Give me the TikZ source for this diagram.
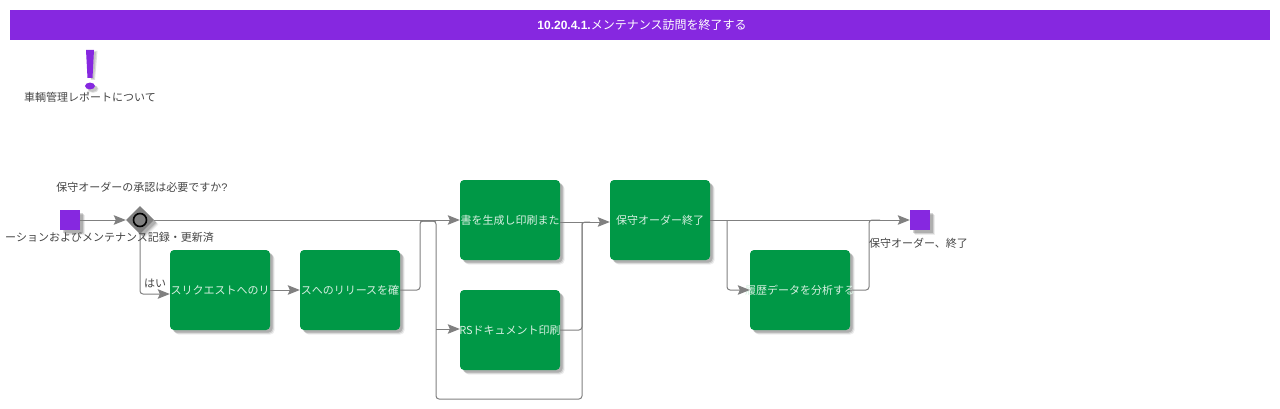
\documentclass[tikz,border=0pt]{standalone}
\usepackage{fontspec}
\setmainfont{Liberation Sans}
\newfontfamily\jp{Noto Sans CJK JP}
\usetikzlibrary{arrows.meta,shadows,calc,shapes.geometric}
\definecolor{bpurple}{HTML}{8628E0}
\definecolor{bgreen}{HTML}{009846}
\definecolor{lnk}{HTML}{808080}
\definecolor{txt}{HTML}{444444}
\definecolor{boxtxt}{HTML}{D8F0E2}
\newcommand{\fitw}[1]{\makebox[100pt][c]{#1}}
\tikzset{
  softshadow/.style={
    drop shadow={shadow xshift=4.5pt,shadow yshift=-4.5pt,fill=black,opacity=.07},
    drop shadow={shadow xshift=3.5pt,shadow yshift=-3.5pt,fill=black,opacity=.12},
    drop shadow={shadow xshift=2.5pt,shadow yshift=-2.5pt,fill=black,opacity=.16}},
  taskbox/.style={draw=none,fill=bgreen,rounded corners=4pt,minimum width=100pt,minimum height=80pt,inner sep=0pt,text=boxtxt,font=\jp\fontsize{11pt}{13pt}\selectfont,softshadow},
  evbox/.style={draw=none,fill=bpurple,minimum width=20pt,minimum height=20pt,inner sep=0pt,softshadow},
  lbl/.style={text=txt,inner sep=0pt,font=\jp\fontsize{11pt}{13pt}\selectfont},
  gw/.style={fill=lnk,draw=none,inner sep=0pt,softshadow},
  flow/.style={draw=lnk,line width=1pt,rounded corners=3pt},
  flowa/.style={flow,-{Stealth[length=12pt,width=9.5pt,inset=2pt]}}
}
\begin{document}
\begin{tikzpicture}[x=1pt,y=-1pt]
\useasboundingbox (0,0) rectangle (1280,409);
% header
\node[fill=bpurple,minimum width=1260pt,minimum height=30pt,inner sep=0pt,text=white,font=\fontsize{12pt}{14pt}\selectfont] (hdr) at (640,25) {\hspace{4pt}\textbf{10.20.4.1.}{\jp メンテナンス訪問を終了する}};
% exclamation mark
\fill[black,opacity=.12] (88.5,51) -- (97.5,51) -- (95,80) -- (91,80) -- cycle;
\fill[black,opacity=.12] (93,89) ellipse (5.5pt and 3.8pt);
\fill[black,opacity=.12] (89,52) -- (96,52) -- (94,79) -- (91,79) -- cycle;
\fill[black,opacity=.12] (92.5,88.5) ellipse (5pt and 3.4pt);
\fill[bpurple] (86,50) -- (94,50) -- (92.5,78) -- (87.5,78) -- cycle;
\fill[bpurple] (90,86) ellipse (5pt and 3.4pt);
\node[lbl] (note) at (90,97.5) {車輌管理レポートについて};
% nodes
\node[evbox] (start) at (70,220) {};
\node[gw,diamond,aspect=1,minimum width=28pt,minimum height=28pt] (gate) at (140,220) {};
\draw[black,line width=1.6pt,fill=lnk] (gate.center) circle (6.5pt);
\node[taskbox] (t1) at (220,290) {\fitw{スリクエストへのリ}};
\node[taskbox] (t2) at (350,290) {\fitw{スへのリリースを確}};
\node[taskbox] (t3) at (510,220) {\fitw{書を生成し印刷また}};
\node[taskbox] (t4) at (510,330) {\fitw{RSドキュメント印刷}};
\node[taskbox] (t5) at (660,220) {\fitw{保守オーダー終了}};
\node[taskbox] (t6) at (800,290) {\fitw{履歴データを分析する}};
\node[evbox] (stop) at (920,220) {};
% junction coordinates
\coordinate (jA) at (420,221);
\coordinate (jB) at (436,221);
\coordinate (jC) at (582,222);
\coordinate (jD) at (727,220);
\coordinate (jE) at (869,220);
\coordinate (bl) at (436,399);
\coordinate (br) at (582,399);
% connectors
\draw[flowa] (start.east) -- (gate.west);
\draw[flowa] (gate.east) -- (t3.west);
\draw[flowa] (gate.south) -- (140,294) -- (t1.west |- 0,294);
\draw[flowa] (t1.east) -- (t2.west);
\draw[flow] (t2.east) -- (jA |- t2.east) -- (jA) -- (jB);
\draw[flow] (jA) -- (jB) -- (bl) -- (br) -- (jC);
\draw[flowa] (436,329) -- (t4.west |- 0,329);
\draw[flow] (t4.east) -- (jC |- t4.east) -- (jC) -- (590,222);
\draw[flowa] (t3.east |- jC) -- (t5.west |- jC);
\draw[flowa] (t5.east) -- (stop.west);
\draw[flowa] (jD) -- (jD |- t6.west) -- (t6.west);
\draw[flow] (t6.east) -- (jE |- t6.east) -- (jE) -- (880,220);
% labels
\node[lbl] (l1) at (142,187.5) {保守オーダーの承認は必要ですか{\fontspec{Liberation Sans}?}};
\node[lbl,anchor=east] (l2) at (214,237.5) {ーションおよびメンテナンス記録・更新済};
\node[lbl] (l3) at (155,283) {はい};
\node[lbl] (l4) at (918.5,243.5) {保守オーダー、終了};
\end{tikzpicture}
\end{document}
